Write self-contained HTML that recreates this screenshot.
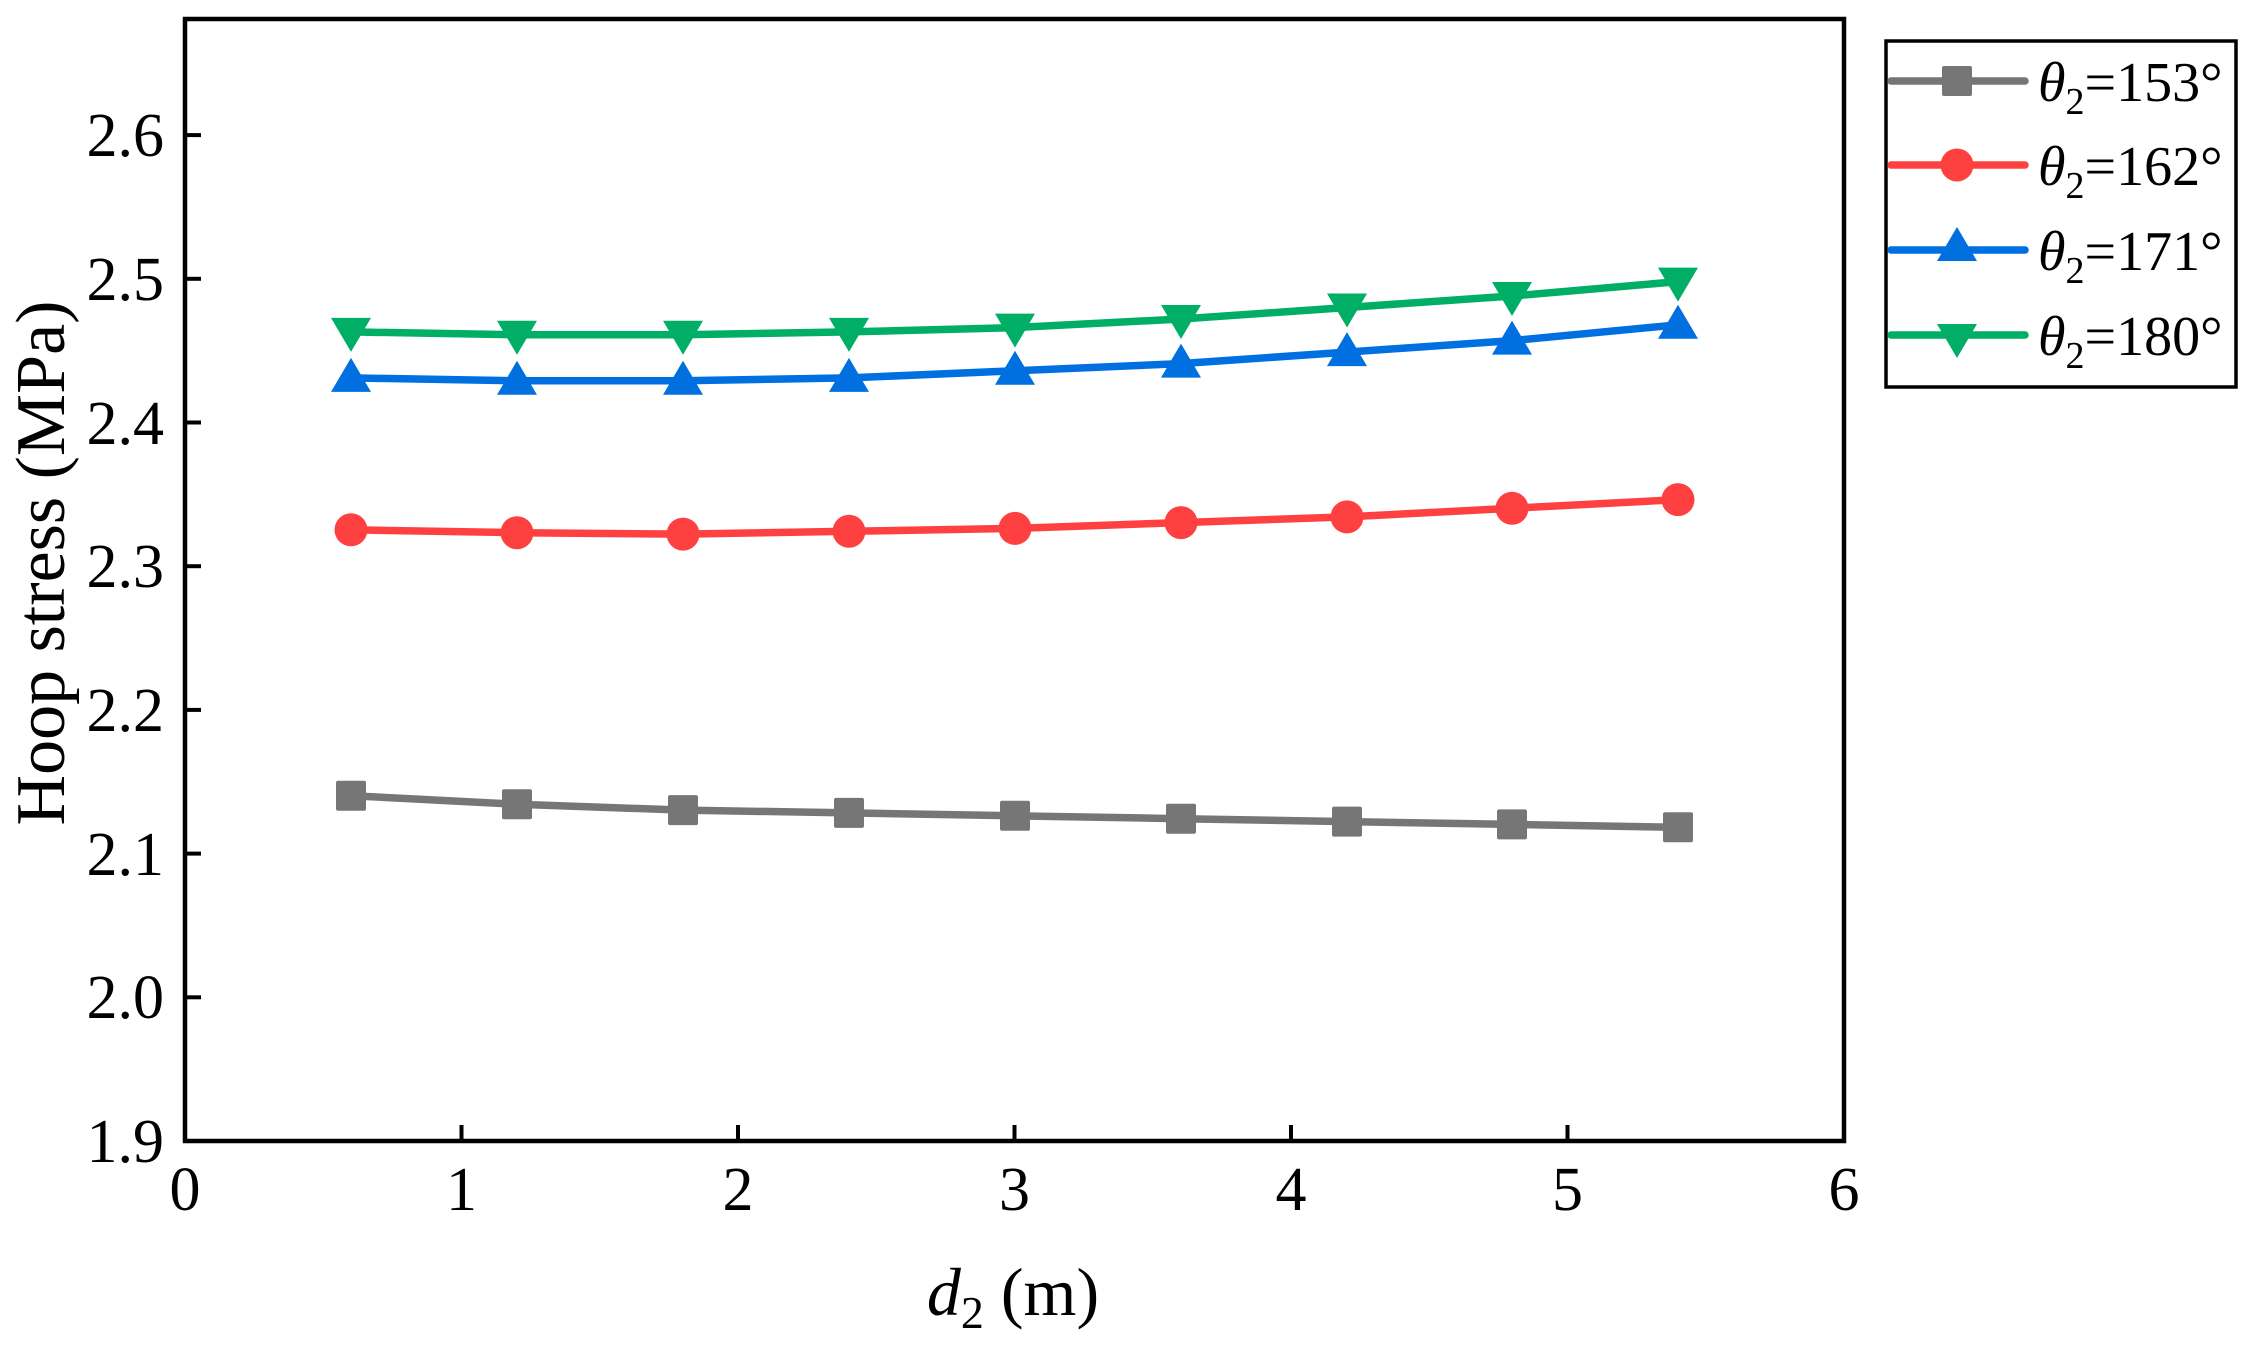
<!DOCTYPE html>
<html><head><meta charset="utf-8"><style>
html,body{margin:0;padding:0;background:#fff;}
svg{display:block;}
text{font-family:"Liberation Serif",serif;fill:#000;}
</style></head><body>
<svg width="2250" height="1350" viewBox="0 0 2250 1350" xmlns="http://www.w3.org/2000/svg">
<defs>
<g id="sq"><rect x="-15" y="-15" width="30" height="30" rx="2" fill="#767676"/></g>
<g id="ci"><circle r="16.5" fill="#ff4040"/></g>
<g id="tu"><polygon points="0,-20 20,14 -20,14" fill="#0070e0"/></g>
<g id="td"><polygon points="0,20 20,-14 -20,-14" fill="#00ae66"/></g>
</defs>
<rect x="185" y="19" width="1659" height="1122" fill="none" stroke="#000" stroke-width="4.5"/>
<g stroke="#000" stroke-width="4">
<line x1="461.5" y1="1141" x2="461.5" y2="1125"/><line x1="738" y1="1141" x2="738" y2="1125"/>
<line x1="1014.5" y1="1141" x2="1014.5" y2="1125"/><line x1="1291" y1="1141" x2="1291" y2="1125"/>
<line x1="1567.5" y1="1141" x2="1567.5" y2="1125"/>
<line x1="185" y1="997.3" x2="201" y2="997.3"/><line x1="185" y1="853.6" x2="201" y2="853.6"/>
<line x1="185" y1="709.9" x2="201" y2="709.9"/><line x1="185" y1="566.2" x2="201" y2="566.2"/>
<line x1="185" y1="422.5" x2="201" y2="422.5"/><line x1="185" y1="278.8" x2="201" y2="278.8"/>
<line x1="185" y1="135.1" x2="201" y2="135.1"/>
</g>
<g font-size="62" text-anchor="middle">
<text x="185" y="1210">0</text><text x="461.5" y="1210">1</text><text x="738" y="1210">2</text>
<text x="1014.5" y="1210">3</text><text x="1291" y="1210">4</text><text x="1567.5" y="1210">5</text><text x="1844" y="1210">6</text>
</g>
<g font-size="62" text-anchor="end">
<text x="164" y="1162">1.9</text><text x="164" y="1018">2.0</text><text x="164" y="875">2.1</text>
<text x="164" y="731">2.2</text><text x="164" y="587">2.3</text><text x="164" y="444">2.4</text>
<text x="164" y="300">2.5</text><text x="164" y="156">2.6</text>
</g>
<text transform="translate(64,563) rotate(-90)" font-size="70" text-anchor="middle">Hoop stress (MPa)</text>
<text x="1013" y="1315" font-size="68" text-anchor="middle"><tspan font-style="italic">d</tspan><tspan font-size="46" dy="13">2</tspan><tspan dy="-13"> (m)</tspan></text>
<g fill="none" stroke-width="7.5" stroke-linejoin="round" stroke-linecap="round">
<polyline stroke="#767676" points="351,795.7 517,804.3 683,810.1 849,812.9 1015,815.8 1181,818.7 1347,821.6 1512,824.4 1678,827.3"/>
<polyline stroke="#ff4040" points="351,529.8 517,532.7 683,534.1 849,531.3 1015,528.4 1181,522.6 1347,516.9 1512,508.3 1678,499.6"/>
<polyline stroke="#0070e0" points="351,377.9 517,380.8 683,380.8 849,377.9 1015,370.8 1181,363.6 1347,352.1 1512,340.6 1678,324.8"/>
<polyline stroke="#00ae66" points="351,331.9 517,334.8 683,334.8 849,331.9 1015,327.6 1181,319.0 1347,307.5 1512,296.0 1678,281.6"/>
</g>
<g>
<use href="#sq" x="351" y="795.7"/><use href="#sq" x="517" y="804.3"/><use href="#sq" x="683" y="810.1"/><use href="#sq" x="849" y="812.9"/><use href="#sq" x="1015" y="815.8"/><use href="#sq" x="1181" y="818.7"/><use href="#sq" x="1347" y="821.6"/><use href="#sq" x="1512" y="824.4"/><use href="#sq" x="1678" y="827.3"/>
<use href="#ci" x="351" y="529.8"/><use href="#ci" x="517" y="532.7"/><use href="#ci" x="683" y="534.1"/><use href="#ci" x="849" y="531.3"/><use href="#ci" x="1015" y="528.4"/><use href="#ci" x="1181" y="522.6"/><use href="#ci" x="1347" y="516.9"/><use href="#ci" x="1512" y="508.3"/><use href="#ci" x="1678" y="499.6"/>
<use href="#tu" x="351" y="377.9"/><use href="#tu" x="517" y="380.8"/><use href="#tu" x="683" y="380.8"/><use href="#tu" x="849" y="377.9"/><use href="#tu" x="1015" y="370.8"/><use href="#tu" x="1181" y="363.6"/><use href="#tu" x="1347" y="352.1"/><use href="#tu" x="1512" y="340.6"/><use href="#tu" x="1678" y="324.8"/>
<use href="#td" x="351" y="331.9"/><use href="#td" x="517" y="334.8"/><use href="#td" x="683" y="334.8"/><use href="#td" x="849" y="331.9"/><use href="#td" x="1015" y="327.6"/><use href="#td" x="1181" y="319.0"/><use href="#td" x="1347" y="307.5"/><use href="#td" x="1512" y="296.0"/><use href="#td" x="1678" y="281.6"/>
</g>
<rect x="1886" y="41" width="350" height="346" fill="#fff" stroke="#000" stroke-width="3.5"/>
<g stroke-width="7.5" stroke-linecap="round">
<line x1="1891" y1="81" x2="2025" y2="81" stroke="#767676"/>
<line x1="1891" y1="165" x2="2025" y2="165" stroke="#ff4040"/>
<line x1="1891" y1="250" x2="2025" y2="250" stroke="#0070e0"/>
<line x1="1891" y1="335" x2="2025" y2="335" stroke="#00ae66"/>
</g>
<use href="#sq" x="1957" y="81"/><use href="#ci" x="1957" y="165"/><use href="#tu" x="1957" y="247"/><use href="#td" x="1957" y="338"/>
<g font-size="56">
<text x="2038" y="101"><tspan font-style="italic">θ</tspan><tspan font-size="38" dy="13">2</tspan><tspan dy="-13">=153°</tspan></text>
<text x="2038" y="185"><tspan font-style="italic">θ</tspan><tspan font-size="38" dy="13">2</tspan><tspan dy="-13">=162°</tspan></text>
<text x="2038" y="270"><tspan font-style="italic">θ</tspan><tspan font-size="38" dy="13">2</tspan><tspan dy="-13">=171°</tspan></text>
<text x="2038" y="355"><tspan font-style="italic">θ</tspan><tspan font-size="38" dy="13">2</tspan><tspan dy="-13">=180°</tspan></text>
</g>
</svg>
</body></html>
